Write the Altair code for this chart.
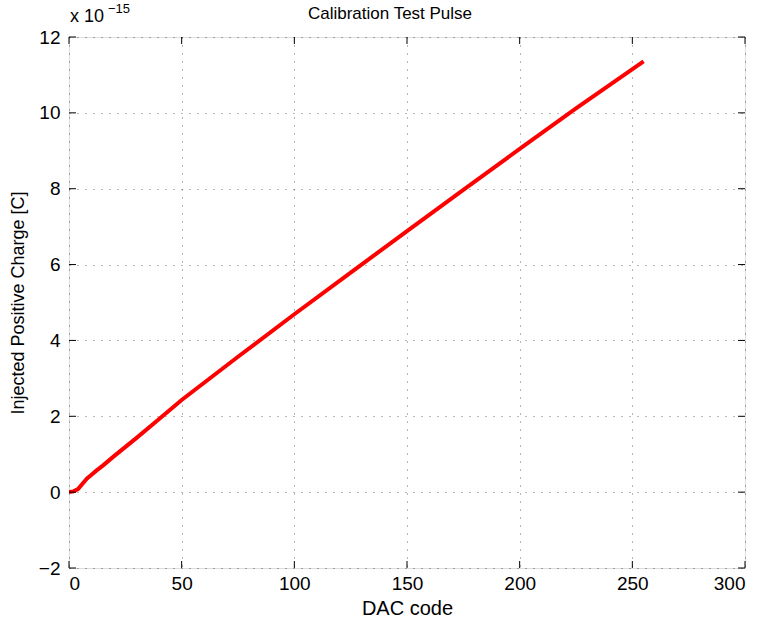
import altair as alt
import pandas as pd

# DAC code vs injected charge (in units of 1e-15 C)
dac_code = [0, 2, 4, 6, 8, 10, 12, 15, 20, 30, 40, 50, 75, 100, 125, 150, 175, 200, 225, 255]
charge_e15 = [0, 0.02, 0.08, 0.22, 0.36, 0.46, 0.56, 0.7, 0.95, 1.43, 1.93, 2.43, 3.57, 4.69, 5.79, 6.88, 7.97, 9.05, 10.12, 11.36]

x_ticks = [0, 50, 100, 150, 200, 250, 300]
y_ticks = [-2, 0, 2, 4, 6, 8, 10, 12]

W, H = 676, 531
FONT = "Liberation Sans"

df = pd.DataFrame({"dac": dac_code, "q": charge_e15})
xt = pd.DataFrame({"xt": x_ticks})
yt = pd.DataFrame({"yt": y_ticks})
one = pd.DataFrame({"k": [0]})

xscale = alt.Scale(domain=[0, 300], nice=False, zero=False)
yscale = alt.Scale(domain=[-2, 12], nice=False, zero=False)

line = alt.Chart(df).mark_line(color="#ff0000", strokeWidth=4, clip=True).encode(
    x=alt.X("dac:Q", scale=xscale,
            axis=alt.Axis(values=x_ticks, title="DAC code", format="d")),
    y=alt.Y("q:Q", scale=yscale,
            axis=alt.Axis(values=y_ticks, title="Injected Positive Charge [C]", format="d")),
)

tick_len = 7
xt_bottom = alt.Chart(xt).mark_rule(color="black", strokeWidth=1).encode(
    x=alt.X("xt:Q", scale=xscale), y=alt.value(H), y2=alt.value(H - tick_len))
xt_top = alt.Chart(xt).mark_rule(color="black", strokeWidth=1).encode(
    x=alt.X("xt:Q", scale=xscale), y=alt.value(0), y2=alt.value(tick_len))
yt_left = alt.Chart(yt).mark_rule(color="black", strokeWidth=1).encode(
    y=alt.Y("yt:Q", scale=yscale), x=alt.value(0), x2=alt.value(tick_len))
yt_right = alt.Chart(yt).mark_rule(color="black", strokeWidth=1).encode(
    y=alt.Y("yt:Q", scale=yscale), x=alt.value(W), x2=alt.value(W - tick_len))

exp_base = alt.Chart(one).mark_text(font=FONT, fontSize=18, align="left", baseline="alphabetic",
                                     color="black").encode(
    x=alt.value(1), y=alt.value(-15), text=alt.value("x 10"))
exp_sup = alt.Chart(one).mark_text(font=FONT, fontSize=13, align="left", baseline="alphabetic",
                                    color="black").encode(
    x=alt.value(39), y=alt.value(-24), text=alt.value("\u221215"))
title = alt.Chart(one).mark_text(font=FONT, fontSize=17, align="center", baseline="alphabetic",
                                  color="black").encode(
    x=alt.value(321), y=alt.value(-18), text=alt.value("Calibration Test Pulse"))

chart = alt.layer(line, xt_bottom, xt_top, yt_left, yt_right, exp_base, exp_sup, title).properties(
    width=W, height=H,
    autosize=alt.AutoSizeParams(type="none"),
    padding={"left": 69, "top": 37, "right": 18, "bottom": 58},
).configure_view(
    stroke="black", strokeWidth=1, fill="white"
).configure(
    background="white"
).configure_axis(
    domain=False, ticks=False, grid=True, gridColor="#000000", gridDash=[1, 7],
    gridOpacity=0.55, gridWidth=1,
    labelFont=FONT, labelFontSize=19, labelColor="black",
    titleFont=FONT, titleFontSize=18, titleColor="black", titleFontWeight="normal",
).configure_axisX(
    labelPadding=6, titlePadding=5, titleFontSize=20
).configure_axisY(
    labelPadding=9, titlePadding=11
)

chart.save("out.html", embed_options={"renderer": "svg", "actions": False})
